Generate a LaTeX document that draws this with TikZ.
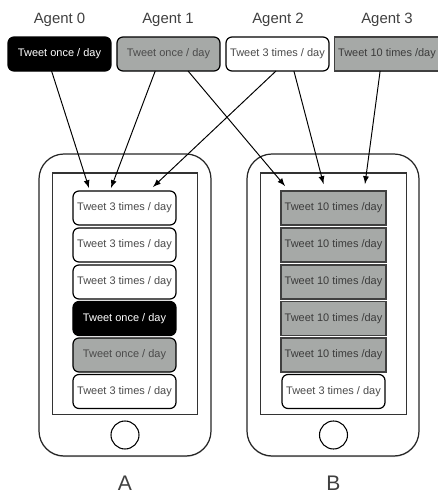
\documentclass[tikz,border=0pt]{standalone}
\usepackage{fontspec}
\setmainfont{Liberation Sans}
\usetikzlibrary{shadows}
\definecolor{tweetgray}{HTML}{A6A9A7}
\definecolor{tweetink}{HTML}{4A4A4A}
\tikzset{
  tweet/.style={draw=black,line width=0.7pt,minimum width=2.06cm,minimum height=0.68cm,inner sep=0pt,outer sep=0pt,font=\fontsize{6.25}{7}\selectfont},
  once/.style={tweet,rounded corners=0.12cm,fill=black,text=white},
  oncegray/.style={tweet,rounded corners=0.12cm,fill=tweetgray,text=tweetink},
  three/.style={tweet,rounded corners=0.12cm,fill=white,text=tweetink},
  ten/.style={tweet,minimum width=2.1cm,fill=tweetgray,draw=black!75,text=tweetink!80!black},
  agentlabel/.style={text=black!75,font=\fontsize{8.5}{10}\selectfont},
  phone/.style={draw=black!85,line width=0.7pt,fill=white,rounded corners=0.5cm,minimum width=3.44cm,minimum height=6.04cm,outer sep=0pt,drop shadow={shadow xshift=0pt,shadow yshift=-0.6pt,opacity=0.4}},
  screen/.style={draw=black!80,line width=0.7pt,minimum width=2.91cm,minimum height=4.83cm,outer sep=0pt},
  homebutton/.style={draw=black,line width=0.6pt,circle,minimum size=0.56cm,outer sep=0pt},
  phonelabel/.style={text=black!75,font=\fontsize{12}{14}\selectfont},
  tweetarrow/.style={->,>=latex,line width=0.55pt}
}
\begin{document}
\begin{tikzpicture}
\useasboundingbox (0,0) rectangle (8.76,9.8);
% phones
\node[phone] (phoneA) at (2.5,3.7) {};
\node[phone] (phoneB) at (6.66,3.7) {};
\node[screen] (screenA) at (2.5,3.925) {};
\node[screen] (screenB) at (6.67,3.925) {};
\node[homebutton] (homeA) at (2.5,1.1) {};
\node[homebutton] (homeB) at (6.67,1.1) {};
\node[phonelabel] (labelA) at (2.5,0.14) {A};
\node[phonelabel] (labelB) at (6.67,0.14) {B};
% agents
\node[agentlabel] (name0) at (1.19,9.4) {Agent 0};
\node[agentlabel] (name1) at (3.36,9.4) {Agent 1};
\node[agentlabel] (name2) at (5.56,9.4) {Agent 2};
\node[agentlabel] (name3) at (7.74,9.4) {Agent 3};
\node[once] (agent0) at (1.19,8.72) {Tweet once / day};
\node[oncegray] (agent1) at (3.37,8.72) {Tweet once / day};
\node[three] (agent2) at (5.55,8.72) {Tweet 3 times / day};
\node[ten] (agent3) at (7.74,8.72) {Tweet 10 times /day};
% feed A
\node[three] (feedA1) at (2.49,5.64) {Tweet 3 times / day};
\node[three] (feedA2) at (2.49,4.9) {Tweet 3 times / day};
\node[three] (feedA3) at (2.49,4.16) {Tweet 3 times / day};
\node[once] (feedA4) at (2.49,3.43) {Tweet once / day};
\node[oncegray] (feedA5) at (2.49,2.7) {Tweet once / day};
\node[three] (feedA6) at (2.49,1.97) {Tweet 3 times / day};
% feed B
\node[ten] (feedB1) at (6.67,5.64) {Tweet 10 times /day};
\node[ten] (feedB2) at (6.67,4.9) {Tweet 10 times /day};
\node[ten] (feedB3) at (6.67,4.16) {Tweet 10 times /day};
\node[ten] (feedB4) at (6.67,3.43) {Tweet 10 times /day};
\node[ten] (feedB5) at (6.67,2.7) {Tweet 10 times /day};
\node[three] (feedB6) at (6.67,1.97) {Tweet 3 times / day};
% arrow ends
\coordinate (endA0) at (1.78,6.04);
\coordinate (endA1) at (2.22,6.04);
\coordinate (endA2) at (3.06,6.06);
\coordinate (endB1) at (5.7,6.08);
\coordinate (endB2) at (6.47,6.12);
\coordinate (endB3) at (7.3,6.12);
\draw[tweetarrow] (agent0.-115) -- (endA0);
\draw[tweetarrow] (agent1.-128) -- (endA1);
\draw[tweetarrow] (agent1.-41) -- (endB1);
\draw[tweetarrow] (agent2.-95) -- (endA2);
\draw[tweetarrow] (agent2.-46) -- (endB2);
\draw[tweetarrow] (agent3.-112) -- (endB3);
\end{tikzpicture}
\end{document}
